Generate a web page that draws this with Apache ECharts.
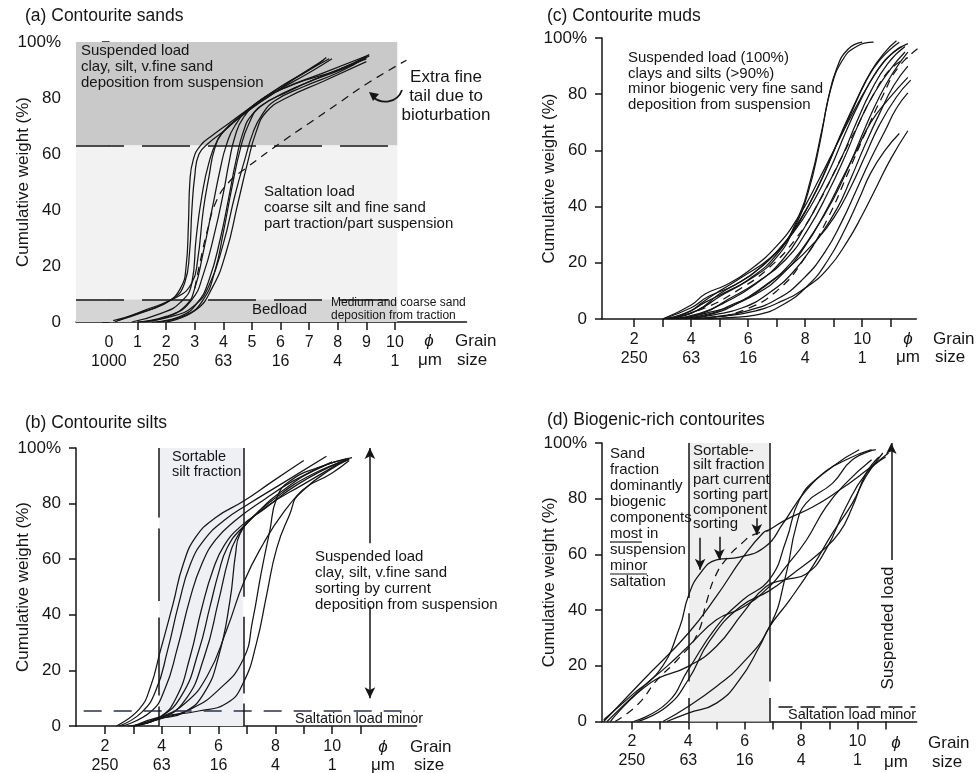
<!DOCTYPE html>
<html>
<head>
<meta charset="utf-8">
<script src="https://cdn.jsdelivr.net/npm/echarts@6/dist/echarts.min.js"></script>
<style>
  html, body { margin: 0; padding: 0; background: #fff; }
  #main { width: 978px; height: 773px; }
</style>
</head>
<body>
<div id="main"></div>
<script>
// grain size: phi on x, cumulative weight % on y
var sandCurves = [
  [[0.15,0.5],[1,3],[2,7],[2.5,12],[2.7,20],[2.78,35],[2.83,50],[2.95,58],[3.2,63],[3.6,66.5],[4.2,71],[5,77],[6,84],[7,90],[7.6,94.5]],
  [[0.3,0.5],[1.2,3.5],[2.2,8],[2.65,14],[2.82,25],[2.9,40],[3.0,52],[3.15,60],[3.5,64],[4.0,68],[4.8,75],[5.8,82],[6.8,89],[7.5,93.5]],
  [[0.8,0],[1.8,3],[2.5,7],[2.9,14],[3.05,30],[3.25,45],[3.5,57],[3.8,65],[4.2,70],[5,77],[6,84],[7,90],[7.7,94]],
  [[1,0],[2,2],[2.7,6],[3.0,12],[3.3,25],[3.6,40],[3.9,55],[4.1,63],[4.4,70],[5,77],[6,83],[7.5,89],[9,95]],
  [[1.2,0],[2.2,2.5],[2.9,8],[3.3,17],[3.7,32],[4.0,46],[4.2,57],[4.4,66],[4.7,73],[5.3,79],[6.5,85],[8,90],[9.1,95.5]],
  [[1.5,0],[2.5,2],[3.1,7],[3.5,15],[3.9,30],[4.2,45],[4.45,58],[4.7,68],[5.0,74],[5.6,79],[6.8,85],[8.2,90.5],[9.1,95]],
  [[1.7,0],[2.7,2.5],[3.3,8],[3.7,18],[4.0,32],[4.3,48],[4.6,62],[4.9,71],[5.3,77],[6.2,82],[7.5,88],[9.0,94]],
  [[1,0],[2.2,2],[3.0,6],[3.5,13],[4.0,28],[4.4,45],[4.75,58],[5.05,68],[5.35,74],[5.8,79],[6.8,84],[8,89],[9,94.5]],
  [[2,0],[3,4],[3.6,12],[4.1,25],[4.5,42],[4.85,57],[5.15,68],[5.5,75],[6.2,80],[7.5,86],[9,93]],
  [[0.2,0],[1.2,4],[2.4,9],[2.9,14],[3.1,22],[3.3,40],[3.5,52],[3.7,62],[4,68],[4.7,74],[5.8,82],[7.0,89],[7.8,94]]
];
var sandTail = [[3.0,12],[3.2,22],[3.45,33],[3.75,43],[4.2,50],[4.8,55],[6,64],[7,71],[8,78],[9,85],[10.4,93.5]];
var sandZones = [8, 63];

var mudCurves = [
  [[3.0,0],[3.8,2],[4.5,6],[5.3,10],[6.2,15],[7.0,22],[7.6,32],[8.1,45],[8.5,62],[8.8,78],[9.1,89],[9.5,96],[10.0,98.5]],
  [[3.2,0],[4.2,3],[5,8],[6,14],[7,23],[7.7,35],[8.2,50],[8.6,68],[8.9,82],[9.3,92],[9.8,97],[10.4,98.5]],
  [[3.0,0],[4.0,4],[4.6,8],[5.5,12],[6.5,19],[7.5,30],[8.2,42],[8.8,55],[9.3,67],[9.8,78],[10.3,88],[10.8,95],[11.2,99]],
  [[3.1,0],[4.2,3],[5.0,9],[6.0,15],[7.0,24],[7.8,35],[8.5,48],[9.1,62],[9.6,73],[10.1,84],[10.6,92],[11.3,98.5]],
  [[3.3,0],[4.3,2],[5.2,6],[6.2,12],[7.2,21],[8.0,33],[8.7,46],[9.3,58],[9.8,70],[10.3,81],[10.9,91],[11.5,97]],
  [[3.5,0],[4.5,2],[5.5,5],[6.5,11],[7.5,20],[8.3,31],[9.0,43],[9.6,56],[10.1,68],[10.6,79],[11.1,88],[11.6,95]],
  [[3.8,0],[4.8,1.5],[5.8,4],[6.7,9],[7.6,17],[8.4,28],[9.1,39],[9.6,50],[10.1,62],[10.6,73],[11.1,83],[11.6,90]],
  [[4.0,0],[5.0,1],[6.0,3],[7.0,7],[7.9,14],[8.7,24],[9.3,35],[9.8,46],[10.3,57],[10.8,67],[11.2,75],[11.6,80.5]],
  [[4.2,0],[5.3,0.5],[6.3,1.5],[7.2,5],[8.1,12],[8.8,21],[9.4,32],[9.9,43],[10.3,52],[10.8,60],[11.3,66]],
  [[3.6,0],[4.7,2],[5.4,5],[6.3,9],[7.2,16],[8.0,26],[8.7,38],[9.3,50],[9.8,60],[10.3,70],[10.9,78],[11.6,86]],
  [[3.2,0],[4.0,3],[4.4,6],[5.0,10],[5.8,15],[6.8,22],[7.6,31],[8.3,42],[8.9,54],[9.4,66],[9.9,77],[10.5,88],[11.1,95],[11.6,98]],
  [[3.4,0],[4.4,2],[5.3,7],[6.3,13],[7.3,21],[8.1,32],[8.8,45],[9.4,58],[9.9,70],[10.4,80],[11.0,89],[11.5,95]],
  [[3.0,0],[4.0,5],[4.5,9],[5.2,12],[6.0,17],[7.0,26],[7.8,37],[8.5,50],[9.1,62],[9.6,72],[10.2,83],[10.8,92],[11.4,97]],
  [[3.7,0],[4.8,2],[5.7,6],[6.6,12],[7.5,19],[8.3,27],[9.0,36],[9.6,47],[10.1,58],[10.6,69],[11.2,79],[11.7,85]],
  [[4.1,0],[5.1,1],[6.1,2.5],[7.1,6],[8.0,11],[8.8,18],[9.5,28],[10.0,37],[10.5,47],[11.0,57],[11.6,67]]
];
var mudDashed = [
  [[3.3,0],[4.5,4],[5.6,10],[6.7,18],[7.7,29],[8.5,42],[9.2,56],[9.8,68],[10.4,80],[11.0,89],[11.6,93]],
  [[4.6,0],[5.8,3],[7.0,10],[8.0,22],[8.8,36],[9.5,52],[10.1,66],[10.7,79],[11.3,90],[12.2,98]]
];

var siltCurves = [
  [[2.4,0],[3.2,6],[3.6,14],[3.95,27],[4.4,44],[4.75,58],[5.2,68],[5.9,75],[6.9,81],[7.9,88],[9.0,95.5]],
  [[2.5,0],[3.3,5],[3.8,13],[4.2,27],[4.6,44],[5.0,58],[5.5,67],[6.2,74],[7.0,79.5],[8.2,87],[9.8,97]],
  [[2.6,0],[3.6,5],[4.1,13],[4.55,28],[5.0,46],[5.4,58],[5.9,67],[6.6,74],[7.4,80],[8.6,88],[10.0,95]],
  [[3.0,0],[3.9,3],[4.5,10],[5.0,25],[5.4,42],[5.8,56],[6.2,65],[6.8,72],[7.6,78],[8.8,87],[10.3,95]],
  [[3.0,0],[3.9,3],[4.7,11],[5.3,27],[5.7,43],[6.0,55],[6.3,64],[6.8,71],[7.7,79],[9.0,87],[10.5,96]],
  [[2.8,0],[3.9,2.5],[4.8,9],[5.5,25],[6.0,45],[6.35,60],[6.6,67],[7.1,74],[8.0,82],[9.2,90],[10.6,96]],
  [[3.0,0],[3.9,2.5],[4.8,5],[5.5,12],[6.0,25],[6.4,45],[6.6,62],[6.75,69],[7.3,76],[8.3,85],[9.6,93],[10.7,96.5]],
  [[3.0,0],[3.9,3],[4.8,8],[5.6,18],[6.3,35],[6.9,52],[7.6,66],[8.3,77],[9.0,85],[9.9,92],[10.6,96]],
  [[3.0,0],[3.9,2.5],[5.0,6],[6.0,13],[6.87,24],[7.2,38],[7.5,55],[7.8,70],[8.05,82],[8.5,88],[9.5,93],[10.5,96]],
  [[3.0,0],[3.91,3.2],[5.3,5.4],[6.3,8.3],[6.87,15.5],[7.34,30],[7.69,47],[8.05,64],[8.5,76],[8.87,84],[10.0,91],[10.6,95.5]]
];
var siltWindow = [3.91, 6.87];
var siltSaltation = 5.4;

var bioCurves = [
  [[1.0,0.6],[2.06,10],[3.0,18.6],[3.7,34],[4.0,45],[4.41,53],[5.0,58],[5.82,59],[6.76,63],[7.35,71],[8.18,83],[9.12,91.6],[10.06,97.6]],
  [[1.0,0],[2.41,15],[4.0,31.7],[5.0,45],[5.94,59],[6.65,67.7],[6.9,69],[7.47,72.5],[8.41,77],[9.35,83],[10.3,90],[11.1,96.4]],
  [[1.24,0],[2.65,13.8],[4.0,19.8],[5.0,27],[5.94,39],[6.76,48.5],[7.47,51],[8.18,53],[8.88,61.7],[9.59,77],[10.3,89],[11.0,95]],
  [[2.06,0],[3.24,6.6],[4.0,18.6],[5.0,34],[5.94,43.7],[6.88,51],[7.47,65],[7.94,79.6],[8.65,88],[9.6,94],[10.5,97.6]],
  [[3.1,0],[4.0,5.4],[5.0,12.6],[5.82,19.8],[6.88,34],[7.47,53],[7.82,70],[8.18,78.4],[9.12,85.6],[9.82,94],[10.65,97.6]],
  [[3.24,0],[4.0,3],[5.0,6.6],[5.82,15],[6.53,27],[6.88,34],[7.6,43.7],[8.41,55.7],[9.12,67.7],[9.82,78.4],[10.3,88],[10.9,96.4]],
  [[1.12,0],[2.41,12.6],[3.24,19.8],[4.0,27],[5.0,36.5],[5.94,41],[6.88,48.5],[7.47,55.7],[8.18,65],[8.88,77],[9.59,85.6],[10.5,94]],
  [[2.2,0],[3.24,5.4],[4.0,15],[4.76,29],[5.82,41],[6.88,47],[7.7,53],[8.65,60.5],[9.35,67.7],[9.82,77],[10.3,89],[10.76,95]]
];
var bioDashed = [[1.4,0],[2.2,6],[2.9,15],[3.6,22],[4.3,31],[4.65,43],[4.95,52],[5.4,59],[5.9,64],[6.3,67],[6.85,68.5]];
var bioWindow = [4.02, 6.88];
var bioSaltation = 5.4;

var yTicks = [0, 20, 40, 60, 80, 100];
var phiTicksSand = [1, 2, 3, 4, 5, 6, 7, 8, 9, 10];
var phiLabelsSand = [0, 1, 2, 3, 4, 5, 6, 7, 8, 9, 10];
var phiTicks = [2, 3, 4, 5, 6, 7, 8, 9, 10, 11];
var phiLabels = [2, 4, 6, 8, 10];
var micronByPhi = {0: '1000', 2: '250', 4: '63', 6: '16', 8: '4', 10: '1'};

var FONT = '"Liberation Sans", Arial, Helvetica, sans-serif';
var INK = '#151515';

var chart = echarts.init(document.getElementById('main'));

function xAxisFor(grid, min, max, ticks, labels) {
  return {
    type: 'value', gridIndex: grid, min: min, max: max,
    axisLine: { show: true, onZero: false, lineStyle: { color: INK, width: 1.5 } },
    axisTick: { show: true, customValues: ticks, length: 8, lineStyle: { color: INK, width: 1.5 } },
    axisLabel: {
      customValues: labels, color: INK, fontSize: 16, lineHeight: 19, margin: 11, fontFamily: FONT,
      formatter: function (v) { return v + '\n' + (micronByPhi[v] || ' '); }
    },
    splitLine: { show: false }
  };
}

function yAxisFor(grid) {
  return {
    type: 'value', gridIndex: grid, min: 0, max: 100, interval: 20,
    name: 'Cumulative weight (%)', nameLocation: 'middle', nameGap: 44, nameMoveOverlap: false,
    nameTextStyle: { fontSize: 17, color: INK, fontFamily: FONT },
    axisLine: { show: true, lineStyle: { color: INK, width: 1.5 } },
    axisTick: { show: true, length: 7, lineStyle: { color: INK, width: 1.5 } },
    axisLabel: {
      color: INK, fontSize: 17, margin: 15, fontFamily: FONT,
      formatter: function (v) { return v === 100 ? '100%' : v; }
    },
    splitLine: { show: false }
  };
}

function curves(list, idx, dashed) {
  return list.map(function (pts) {
    return {
      type: 'line', xAxisIndex: idx, yAxisIndex: idx, data: pts,
      smooth: 0.5, showSymbol: false, symbol: 'none', silent: true, z: 3,
      lineStyle: { color: INK, width: 1.25, type: dashed ? [8, 6] : 'solid' }
    };
  });
}

function seg(x1, y1, x2, y2, endSymbol) {
  return [{ coord: [x1, y1], symbol: 'none' }, { coord: [x2, y2], symbol: endSymbol || 'none', symbolSize: [8, 11] }];
}

function decor(idx, areas, lines) {
  return {
    type: 'line', xAxisIndex: idx, yAxisIndex: idx, data: [], silent: true, z: 1,
    markArea: { silent: true, data: areas },
    markLine: { silent: true, symbol: 'none', label: { show: false }, data: lines }
  };
}

function areaBox(x1, y1, x2, y2, color) {
  return [{ coord: [x1, y1], itemStyle: { color: color } }, { coord: [x2, y2] }];
}

function hDash(y, x1, x2, dash, color) {
  var s = seg(x1, y, x2, y);
  s[0].lineStyle = { color: color || INK, width: 1.5, type: dash };
  return s;
}
function vLine(x, y1, y2) {
  var s = seg(x, y1, x, y2);
  s[0].lineStyle = { color: INK, width: 1.5, type: 'solid' };
  return s;
}
function arrowLine(x, y1, y2) {
  var s = seg(x, y1, x, y2, 'arrow');
  s[0].lineStyle = { color: INK, width: 1.5, type: 'solid' };
  return s;
}

var series = [];
// (a) sands
series.push(decor(0,
  [areaBox(-1.15, sandZones[1], 10.08, 100, '#c9c9c9'),
   areaBox(-1.15, sandZones[0], 10.08, sandZones[1], '#f2f2f2'),
   areaBox(-1.15, 0, 10.08, sandZones[0], '#d5d5d5')],
  [hDash(sandZones[1], -1.15, 9.8, [48, 18]), hDash(sandZones[0], -1.15, 9.8, [48, 18])]
));
series = series.concat(curves(sandCurves, 0, false), curves([sandTail], 0, true));

// (c) muds
series = series.concat(curves(mudCurves, 1, false), curves(mudDashed, 1, true));

// (b) silts
series.push(decor(2,
  [areaBox(siltWindow[0], 0, siltWindow[1], 100, '#eef0f4')],
  [hDash(siltSaltation, 1.25, 12.9, [18, 12], '#2a3150'),
   vLine(siltWindow[0], 100, 75), vLine(siltWindow[0], 71, 45), vLine(siltWindow[0], 39, 11), vLine(siltWindow[0], 7, 0),
   vLine(siltWindow[1], 100, 46.5), vLine(siltWindow[1], 39.3, 11.7), vLine(siltWindow[1], 8.1, 0),
   arrowLine(11.33, 65.7, 100), arrowLine(11.33, 43, 10)]
));
series = series.concat(curves(siltCurves, 2, false));

// (d) biogenic-rich
series.push(decor(3,
  [areaBox(bioWindow[0], 0, bioWindow[1], 100, '#efefef')],
  [hDash(bioSaltation, 7.2, 12.05, [14, 8]),
   vLine(bioWindow[0], 100, 44.3), vLine(bioWindow[0], 38.9, 14.4), vLine(bioWindow[0], 8.4, 0),
   vLine(bioWindow[1], 100, 14.4), vLine(bioWindow[1], 8.4, 0),
   arrowLine(4.42, 66, 54.5), arrowLine(5.1, 66.3, 58), arrowLine(6.43, 73, 67),
   arrowLine(11.2, 58, 100)]
));
series = series.concat(curves(bioCurves, 3, false), curves([bioDashed], 3, true));

function txt(x, y, s, size, opts) {
  var o = opts || {};
  return {
    type: 'text', x: x, y: y, silent: true, rotation: o.rotation || 0, z: 10,
    style: {
      text: s, fill: INK, fontSize: size, fontFamily: FONT, fontStyle: o.italic ? 'italic' : 'normal',
      align: o.align || 'left', verticalAlign: o.valign || 'middle', lineHeight: o.lh || size + 2
    }
  };
}
function uline(x1, x2, y) {
  return { type: 'line', silent: true, z: 10, shape: { x1: x1, y1: y, x2: x2, y2: y }, style: { stroke: INK, lineWidth: 1.2 } };
}

var graphics = [
  // (a)
  txt(25, 16, '(a) Contourite sands', 17.5),
  txt(81, 43, 'Suspended load\nclay, silt, v.fine sand\ndeposition from suspension', 15, { valign: 'top', lh: 16 }),
  txt(446, 67.5, 'Extra fine\ntail due to\nbioturbation', 17, { valign: 'top', align: 'center', lh: 19 }),
  txt(264, 184, 'Saltation load\ncoarse silt and fine sand\npart traction/part suspension', 15, { valign: 'top', lh: 16 }),
  txt(252, 310, 'Bedload', 15),
  txt(331, 296.5, 'Medium and coarse sand\ndeposition from traction', 12, { valign: 'top', lh: 13 }),
  { type: 'bezierCurve', silent: true, z: 10, shape: { x1: 402, y1: 90, cpx1: 397, cpy1: 104, cpx2: 381, cpy2: 104, x2: 373, y2: 97 },
    style: { stroke: INK, lineWidth: 1.8, fill: null } },
  { type: 'polygon', silent: true, z: 10, shape: { points: [[369, 92], [379, 94], [373, 101]] }, style: { fill: INK } },
  txt(429, 341, 'ϕ', 17, { align: 'center', italic: true }), txt(455, 341, 'Grain', 17),
  txt(430, 360, 'μm', 17, { align: 'center' }), txt(457, 360, 'size', 17),
  // (c)
  txt(547, 16, '(c) Contourite muds', 17.5),
  txt(628, 50, 'Suspended load (100%)\nclays and silts (>90%)\nminor biogenic very fine sand\ndeposition from suspension', 15, { valign: 'top', lh: 15.7 }),
  txt(908, 339, 'ϕ', 17, { align: 'center', italic: true }), txt(933, 339, 'Grain', 17),
  txt(908, 357, 'μm', 17, { align: 'center' }), txt(935, 357, 'size', 17),
  // (b)
  txt(25, 423, '(b) Contourite silts', 17.5),
  txt(172, 449.6, 'Sortable\nsilt fraction', 14.5, { valign: 'top', lh: 14.7 }),
  txt(315, 548.6, 'Suspended load\nclay, silt, v.fine sand\nsorting by current\ndeposition from suspension', 15, { valign: 'top', lh: 16.1 }),
  txt(295, 719, 'Saltation load minor', 14.5),
  txt(383, 747, 'ϕ', 17, { align: 'center', italic: true }), txt(410, 747, 'Grain', 17),
  txt(383, 765, 'μm', 17, { align: 'center' }), txt(414, 765, 'size', 17),
  // (d)
  txt(547, 420, '(d) Biogenic-rich contourites', 17.5),
  txt(610, 446, 'Sand\nfraction\ndominantly\nbiogenic\ncomponents\nmost in\nsuspension\nminor\nsaltation', 15, { valign: 'top', lh: 16 }),
  uline(610, 642, 542), uline(610, 647, 574),
  txt(693, 443.3, 'Sortable-\nsilt fraction\npart current\nsorting part\ncomponent\nsorting', 15, { valign: 'top', lh: 14.7 }),
  txt(888, 628, 'Suspended load', 17, { align: 'center', rotation: Math.PI / 2 }),
  txt(788, 715, 'Saltation load minor', 14.5),
  txt(896, 743, 'ϕ', 17, { align: 'center', italic: true }), txt(928, 743, 'Grain', 17),
  txt(896, 762, 'μm', 17, { align: 'center' }), txt(932, 762, 'size', 17)
];

chart.setOption({
  animation: false,
  backgroundColor: '#ffffff',
  textStyle: { fontFamily: FONT },
  grid: [
    { left: 76, top: 42, width: 390.5, height: 280, outerBoundsMode: 'none' },
    { left: 602, top: 38, width: 314.4, height: 281, outerBoundsMode: 'none' },
    { left: 76, top: 448, width: 340.5, height: 278, outerBoundsMode: 'none' },
    { left: 602, top: 443, width: 314.7, height: 278.5, outerBoundsMode: 'none' }
  ],
  xAxis: [
    xAxisFor(0, -1.15, 12.5, phiTicksSand, phiLabelsSand),
    xAxisFor(1, 0.87, 11.9, phiTicks, phiLabels),
    xAxisFor(2, 0.98, 12.97, phiTicks, phiLabels),
    xAxisFor(3, 0.94, 12.1, phiTicks, phiLabels)
  ],
  yAxis: [yAxisFor(0), yAxisFor(1), yAxisFor(2), yAxisFor(3)],
  series: series,
  graphic: graphics
});
</script>
</body>
</html>
